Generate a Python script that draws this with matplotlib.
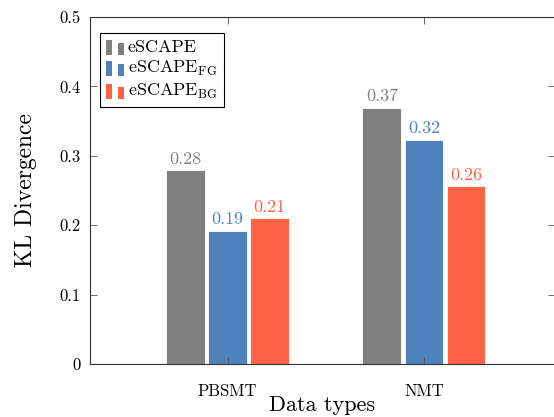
import matplotlib
matplotlib.use('Agg')
import matplotlib.pyplot as plt
from matplotlib.patches import Rectangle
from matplotlib.legend_handler import HandlerBase
import numpy as np

plt.rcParams['font.family'] = 'serif'
plt.rcParams['font.serif'] = ['cmr10']
plt.rcParams['mathtext.fontset'] = 'cm'
plt.rcParams['axes.formatter.use_mathtext'] = True

groups = ['PBSMT', 'NMT']
series = ['eSCAPE', r'eSCAPE$_{\mathrm{FG}}$', r'eSCAPE$_{\mathrm{BG}}$']
values = [
  [0.279, 0.192, 0.210],
  [0.369, 0.323, 0.256],
]
colors = ['#808080', '#4f81bd', '#ff6347']
yticks = [0, 0.1, 0.2, 0.3, 0.4, 0.5]
ytick_labels = ['0', '0.1', '0.2', '0.3', '0.4', '0.5']


class TwoBars(HandlerBase):
  # pgfplots-style ybar legend image: two small bars
  def create_artists(self, legend, orig, xd, yd, w, h, fs, trans):
    bw = w * 0.35
    out = []
    for i, x0 in enumerate((0, w - bw)):
      hh = h * (1.0 if i == 0 else 0.8)
      r = Rectangle((x0 - xd, -yd - 0.1 * h), bw, hh,
                    facecolor=orig.get_facecolor(), edgecolor='none', transform=trans)
      out.append(r)
    return out


fig = plt.figure(figsize=(5.54, 4.17), dpi=100)
ax = fig.add_axes([0.1625, 0.1271, 0.8393, 0.8321])

x = np.arange(len(groups))
width = 0.198
step = 0.214
handles = []
for j, name in enumerate(series):
  vals = [row[j] for row in values]
  pos = x + (j - 1) * step
  bars = ax.bar(pos, vals, width, color=colors[j], edgecolor='white', linewidth=0.6, label=name)
  handles.append(bars[0])
  for p, v in zip(pos, vals):
    ax.text(p, v + 0.005, f'{v:.2f}', ha='center', va='bottom', color=colors[j], fontsize=13)

ax.set_xlim(-0.70, 1.667)
ax.set_ylim(0, 0.5)
ax.set_xticks(x, groups, fontsize=12)
ax.set_yticks(yticks, ytick_labels, fontsize=12)
ax.tick_params(direction='in', length=5, width=0.6, color='#555555', top=True, right=True)
ax.tick_params(axis='x', pad=14)
ax.tick_params(axis='y', pad=7)
for s in ax.spines.values():
  s.set_linewidth(0.8)
  s.set_color('#333333')

ax.set_ylabel('KL Divergence', fontsize=17, labelpad=16)
ax.set_xlabel('Data types', fontsize=16, labelpad=-2)

leg = ax.legend(handles=handles, labels=series, loc='upper left', fontsize=13,
                bbox_to_anchor=(10 / 465, 1 - 15.5 / 347), borderaxespad=0,
                handler_map={h: TwoBars() for h in handles},
                handlelength=1.0, handleheight=0.9, handletextpad=0.2,
                borderpad=0.33, labelspacing=0.22, fancybox=False,
                edgecolor='black', framealpha=1)
leg.get_frame().set_linewidth(0.8)

fig.savefig('out.png', dpi=100)
